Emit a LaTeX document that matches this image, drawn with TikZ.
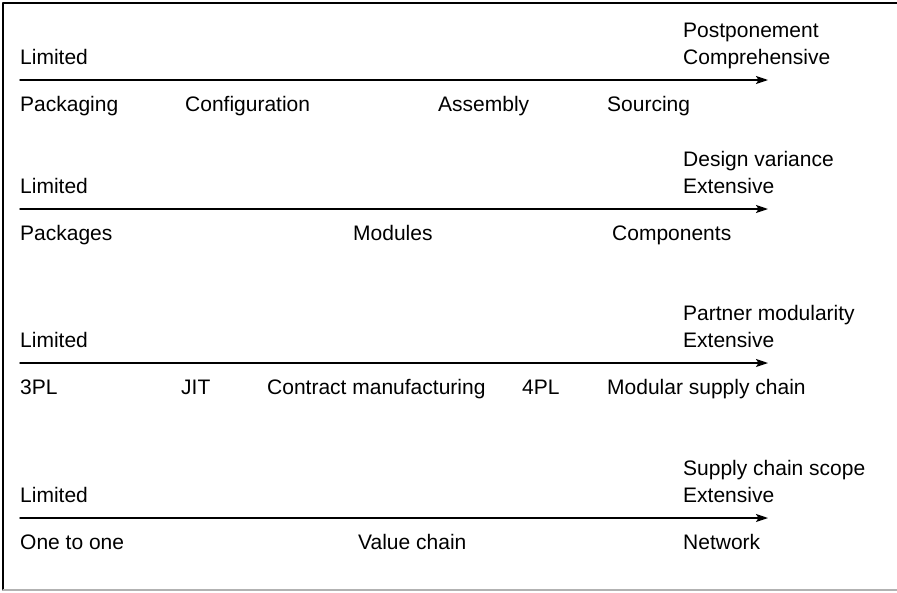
\documentclass[tikz,border=0pt]{standalone}
\usepackage{fontspec}
\setmainfont{Liberation Sans}
\usetikzlibrary{arrows.meta}
\begin{document}
\begin{tikzpicture}[x = 1pt, y = -1pt, line join = round, line cap = round,
	font = \fontsize{21}{25}\selectfont,
	lbl/.style = {anchor = base west, inner sep = 0pt},
	axis/.style = {line width = 1.5pt, -{Stealth[length = 12pt, width = 8pt, inset = 2.5pt]}}]
	\useasboundingbox (0,0) rectangle (897,592);
	\draw[line width = 1.2pt]
	(897,3)--(3,3)--(3,590)
	;
	\draw[line width = 1.2pt, black!30]
	(3,590)--(897,590)
	;
	\foreach \r/\y/\hd/\hi in {1/80/Postponement/Comprehensive,2/209/Design variance/Extensive,3/363/Partner modularity/Extensive,4/518/Supply chain scope/Extensive}
	{
	\coordinate (s\r) at (20,\y);
	\coordinate (e\r) at (768,\y);
	\draw[axis] (s\r)--(e\r);
	\node[lbl] (lim\r) at (20,\y-16) {Limited};
	\node[lbl] (ext\r) at (683,\y-16) {\hi};
	\node[lbl] (dim\r) at (683,\y-43) {\hd};
	}
	\foreach \x/\t in {20/Packaging,185/Configuration,438/Assembly,607/Sourcing}
	\node[lbl] (a\x) at (\x,111) {\t};
	\foreach \x/\t in {20/Packages,353/Modules,612/Components}
	\node[lbl] (b\x) at (\x,240) {\t};
	\foreach \x/\t in {20/3PL,181/JIT,267/Contract manufacturing,522/4PL,607/Modular supply chain}
	\node[lbl] (c\x) at (\x,394) {\t};
	\foreach \x/\t in {20/One to one,358/Value chain,683/Network}
	\node[lbl] (d\x) at (\x,549) {\t};
\end{tikzpicture}
\end{document}
